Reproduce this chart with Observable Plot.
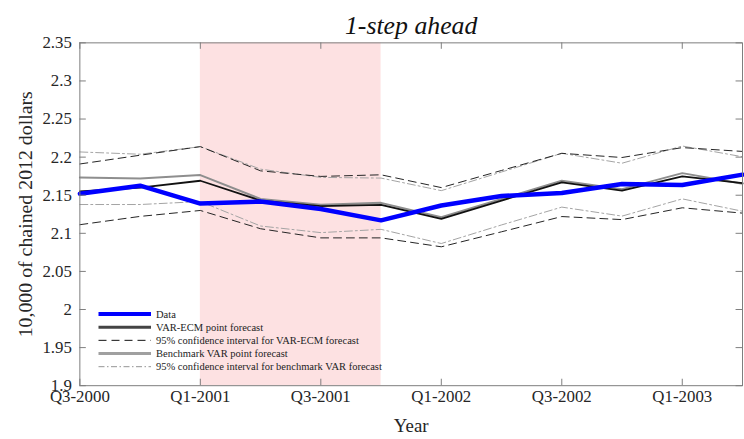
<!DOCTYPE html>
<html><head><meta charset="utf-8">
<script src="https://cdn.jsdelivr.net/npm/d3@7"></script>
<script src="https://cdn.jsdelivr.net/npm/@observablehq/plot@0.6"></script>
<style>
html,body{margin:0;padding:0;background:#fff;overflow:hidden;}
#chart{position:relative;width:744px;height:439px;overflow:hidden;}
#chart svg{display:block;}
#legend{position:absolute;left:0;top:0;}
</style></head><body><div id="chart"></div>
<script>
// ---------- data ----------
const quarters = ["Q3-2000","Q4-2000","Q1-2001","Q2-2001","Q3-2001","Q4-2001","Q1-2002","Q2-2002","Q3-2002","Q4-2002","Q1-2003","Q2-2003"];
const actual       = [2.152, 2.1625, 2.139, 2.1417, 2.132, 2.117, 2.1365, 2.149, 2.153, 2.1647, 2.1634, 2.177];
const varEcm       = [2.155, 2.160, 2.169, 2.143, 2.1357, 2.1374, 2.119, 2.143, 2.167, 2.156, 2.1747, 2.166];
const varEcmUpper  = [2.191, 2.2025, 2.2138, 2.182, 2.1747, 2.1768, 2.160, 2.1825, 2.205, 2.1995, 2.2125, 2.2075];
const varEcmLower  = [2.1113, 2.1222, 2.130, 2.106, 2.094, 2.094, 2.0823, 2.102, 2.122, 2.118, 2.1335, 2.1265];
const bench        = [2.1734, 2.172, 2.1764, 2.1452, 2.1374, 2.140, 2.121, 2.145, 2.169, 2.158, 2.179, 2.165];
const benchUpper   = [2.2068, 2.2038, 2.2138, 2.1842, 2.1734, 2.1725, 2.156, 2.1805, 2.205, 2.192, 2.2146, 2.2005];
const benchLower   = [2.1378, 2.1378, 2.1417, 2.1096, 2.1009, 2.1052, 2.0866, 2.111, 2.1344, 2.1226, 2.1452, 2.129];
const shadeStart = "Q1-2001";
const shadeEnd   = "Q4-2001";
const xTickLabels = ["Q3-2000","Q1-2001","Q3-2001","Q1-2002","Q3-2002","Q1-2003"];
const yTicks      = [1.9, 1.95, 2, 2.05, 2.1, 2.15, 2.2, 2.25, 2.3, 2.35];
const yTickLabels = ["1.9","1.95","2","2.05","2.1","2.15","2.2","2.25","2.3","2.35"];
const titleText = "1-step ahead";
const xLabel = "Year";
const yLabel = "10,000 of chained 2012 dollars";
const legendLabels = ["Data","VAR-ECM point forecast","95% confidence interval for VAR-ECM forecast","Benchmark VAR point forecast","95% confidence interval for benchmark VAR forecast"];

// ---------- layout / style ----------
const FONT = "'Liberation Serif','Times New Roman',Times,serif";
const W = 750, H = 439, mL = 80, mR = 2, mT = 42.7, mB = 439 - 388.3;
const fw = W - mL - mR, fh = H - mT - mB, TL = 6.5;
const TXT = "#262626", AX = "#7d7d7d";

const xTickIdx = xTickLabels.map(q => quarters.indexOf(q));
const rowsOf = (arr, key) => arr.map((v, i) => ({i, v, key}));
const ciEcm = [...rowsOf(varEcmUpper, "u"), ...rowsOf(varEcmLower, "l")];
const ciBench = [...rowsOf(benchUpper, "u"), ...rowsOf(benchLower, "l")];

const styles = [
  {stroke: "#0000ff", strokeWidth: 4.5, dash: null},
  {stroke: "#111111", strokeWidth: 1.8, dash: null},
  {stroke: "#222222", strokeWidth: 1, dash: "8,5"},
  {stroke: "#8e8e8e", strokeWidth: 2, dash: null},
  {stroke: "#a3a3a3", strokeWidth: 1, dash: "8,3,2,3"}
];

const chart = Plot.plot({
  width: W, height: H,
  marginLeft: mL, marginRight: mR, marginTop: mT, marginBottom: mB,
  x: {domain: [0, quarters.length - 1]},
  y: {domain: [yTicks[0], yTicks[yTicks.length - 1]]},
  style: {fontFamily: FONT, background: "white", color: TXT},
  marks: [
    Plot.rect([{a: quarters.indexOf(shadeStart), b: quarters.indexOf(shadeEnd)}], {x1: "a", x2: "b", fill: "#fde1e2"}),
    Plot.line(ciBench, {x: "i", y: "v", z: "key", stroke: styles[4].stroke, strokeWidth: styles[4].strokeWidth, strokeDasharray: styles[4].dash}),
    Plot.line(ciEcm, {x: "i", y: "v", z: "key", stroke: styles[2].stroke, strokeWidth: styles[2].strokeWidth, strokeDasharray: styles[2].dash}),
    Plot.line(rowsOf(bench, "b"), {x: "i", y: "v", stroke: styles[3].stroke, strokeWidth: styles[3].strokeWidth}),
    Plot.line(rowsOf(varEcm, "e"), {x: "i", y: "v", stroke: styles[1].stroke, strokeWidth: styles[1].strokeWidth}),
    Plot.line(rowsOf(actual, "a"), {x: "i", y: "v", stroke: styles[0].stroke, strokeWidth: styles[0].strokeWidth, strokeLinejoin: "round"}),
    // inward ticks
    Plot.tickX(xTickIdx, {x: d => d, stroke: AX, insetTop: fh - TL}),
    Plot.tickX(xTickIdx, {x: d => d, stroke: AX, insetBottom: fh - TL}),
    Plot.tickY(yTicks, {y: d => d, stroke: AX, insetRight: fw - TL}),
    Plot.tickY(yTicks, {y: d => d, stroke: AX, insetLeft: fw - TL}),
    Plot.frame({stroke: AX, strokeWidth: 1}),
    Plot.axisX({ticks: xTickIdx, tickSize: 0, tickPadding: 4, fontSize: 17, fill: TXT, label: null,
      tickFormat: d => xTickLabels[xTickIdx.indexOf(d)]}),
    Plot.axisY({ticks: yTicks, tickSize: 0, tickPadding: 8, fontSize: 17, fill: TXT, label: null,
      tickFormat: d => yTickLabels[yTicks.findIndex(t => Math.abs(t - d) < 1e-9)]}),
    Plot.text([titleText], {frameAnchor: "top", dy: 33.3 - mT, lineAnchor: "bottom", textAnchor: "middle", fontSize: 26, fontStyle: "italic", fill: "#111", text: d => d}),
    Plot.text([xLabel], {frameAnchor: "bottom", dy: 434.5 - 388.3, lineAnchor: "bottom", textAnchor: "middle", fontSize: 19, fill: TXT, text: d => d}),
    Plot.text([yLabel], {frameAnchor: "left", dx: 31.7 - mL, rotate: -90, lineAnchor: "bottom", textAnchor: "middle", fontSize: 20, fill: TXT, text: d => d})
  ]
});
document.getElementById("chart").appendChild(chart);

// ---------- legend (inside plot, lower left, no box) ----------
const legendSvg = d3.select("#chart").append("svg").attr("id", "legend")
  .attr("width", 744).attr("height", 439).style("pointer-events", "none");
const rowY0 = 314, rowDy = 13.17, lx1 = 98.5, lx2 = 151, tx = 156;
const legendLine = [
  {stroke: "#0000ff", w: 4, dash: null},
  {stroke: "#444444", w: 3, dash: null},
  {stroke: "#111111", w: 1, dash: "8,5"},
  {stroke: "#a0a0a0", w: 3, dash: null},
  {stroke: "#8a8a8a", w: 0.9, dash: "6,2.5,1.5,2.5"}
];
legendLabels.forEach((lab, k) => {
  const y = rowY0 + k * rowDy;
  const st = legendLine[k];
  legendSvg.append("line").attr("x1", lx1).attr("x2", lx2).attr("y1", y).attr("y2", y)
    .attr("stroke", st.stroke).attr("stroke-width", st.w).attr("stroke-dasharray", st.dash);
  legendSvg.append("text").attr("x", tx).attr("y", y).attr("dy", "0.34em")
    .attr("font-family", FONT).attr("font-size", 10.5).attr("fill", "#222").text(lab);
});
</script></body></html>
